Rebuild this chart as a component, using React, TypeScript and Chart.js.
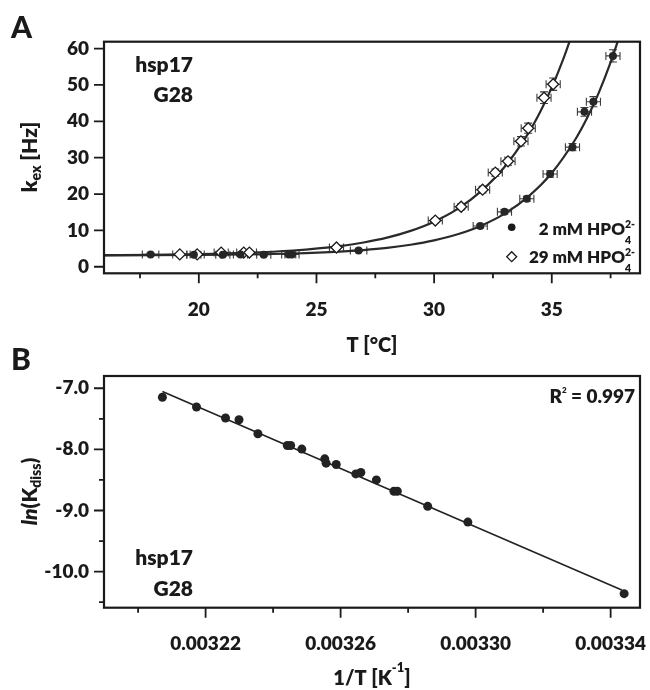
import React, { useEffect, useRef } from 'react';
import { Chart, registerables } from 'chart.js';

Chart.register(...registerables);

// ---------- Panel A data (kex vs T) ----------
const T_2MM = [17.95, 19.79, 21.02, 21.77, 22.76, 23.82, 23.96, 26.79, 31.96, 32.99, 33.94, 34.93, 35.88, 36.39, 36.77, 37.6];
const K_2MM = [3.4, 3.3, 3.3, 3.4, 3.3, 3.4, 3.4, 4.5, 11.2, 15.1, 18.7, 25.5, 32.9, 42.6, 45.4, 58.0];
const TERR_2MM = [0.35, 0.3, 0.3, 0.3, 0.3, 0.3, 0.3, 0.35, 0.3, 0.3, 0.3, 0.3, 0.3, 0.3, 0.3, 0.3];
const KERR_2MM = [0.3, 0.3, 0.3, 0.3, 0.3, 0.3, 0.3, 0.3, 0.5, 0.6, 0.7, 0.9, 1.0, 1.2, 1.4, 1.7];

const T_29MM = [19.19, 19.93, 20.95, 21.91, 22.15, 25.85, 30.05, 31.15, 32.06, 32.6, 33.14, 33.69, 34.0, 34.67, 35.06];
const K_29MM = [3.4, 3.4, 3.9, 3.9, 3.9, 5.3, 12.7, 16.5, 21.2, 25.9, 29.0, 34.5, 38.1, 46.5, 50.2];
const TERR_29MM = [0.3, 0.3, 0.3, 0.3, 0.3, 0.3, 0.3, 0.3, 0.3, 0.3, 0.3, 0.3, 0.3, 0.3, 0.3];
const KERR_29MM = [0.3, 0.3, 0.3, 0.3, 0.3, 0.4, 0.6, 0.8, 0.9, 1.0, 1.1, 1.3, 1.4, 1.6, 1.7];

// fitted curves
const FIT_T_2MM = [16, 18, 20, 22, 24, 26, 27, 28, 29, 30, 31, 32, 33, 34, 35, 36, 36.5, 37, 37.5, 37.8, 38.0];
const FIT_K_2MM = [3.14, 3.17, 3.24, 3.37, 3.64, 4.17, 4.6, 5.2, 6.06, 7.26, 8.94, 11.3, 14.6, 19.3, 25.8, 35.0, 40.9, 47.9, 56.2, 61.9, 66.0];
const FIT_T_29MM = [16, 18, 20, 22, 24, 26, 27, 28, 29, 30, 31, 32, 33, 34, 34.5, 35, 35.5, 35.8, 36.0];
const FIT_K_29MM = [3.2, 3.3, 3.48, 3.82, 4.47, 5.69, 6.67, 8.0, 9.87, 12.4, 15.9, 20.8, 27.5, 36.7, 42.5, 49.3, 57.3, 62.8, 66.7];

const A_X_MAJOR = [20, 25, 30, 35];
const A_X_LABELS = ['20', '25', '30', '35'];
const A_X_MINOR = [17.5, 22.5, 27.5, 32.5, 37.5];
const A_Y_MAJOR = [0, 10, 20, 30, 40, 50, 60];
const A_Y_LABELS = ['0', '10', '20', '30', '40', '50', '60'];

// ---------- Panel B data (ln Kdiss vs 1/T) ----------
const INV_T = [0.0032072, 0.0032173, 0.0032259, 0.0032299, 0.0032355, 0.0032442, 0.0032452, 0.0032485, 0.0032553, 0.0032557, 0.0032587, 0.0032645, 0.003266, 0.0032706, 0.0032758, 0.0032768, 0.0032858, 0.0032977, 0.003344];
const LN_K = [-7.148, -7.307, -7.487, -7.515, -7.744, -7.936, -7.936, -7.996, -8.155, -8.226, -8.248, -8.401, -8.379, -8.5, -8.686, -8.686, -8.932, -9.19, -10.36];
const FIT_INV_T = [0.0032072, 0.0033433];
const FIT_LN_K = [-7.055, -10.3];

const B_X_MAJOR = [0.00322, 0.00326, 0.0033, 0.00334];
const B_X_LABELS = ['0.00322', '0.00326', '0.00330', '0.00334'];
const B_X_MINOR = [0.0032, 0.00324, 0.00328, 0.00332];
const B_Y_MAJOR = [-7, -8, -9, -10];
const B_Y_LABELS = ['-7.0', '-8.0', '-9.0', '-10.0'];
const B_Y_MINOR = [-7.5, -8.5, -9.5, -10.5];

const INK = '#1a1a1a';
const FONT = 'Lato';
const WEIGHT = 800;
const TICK_FONT = { family: FONT, weight: WEIGHT as any, size: 19 };

type Seg = { t: string; s: number; dy?: number; it?: boolean; stack?: boolean; w?: number };
const segFont = (g: Seg) => `${g.it ? 'italic ' : ''}${g.w || WEIGHT} ${g.s}px ${FONT}`;

function drawRich(ctx: CanvasRenderingContext2D, segs: Seg[], x: number, y: number, align: 'left' | 'right' | 'center') {
  const pos: number[] = [];
  let cx = 0;
  let pending = 0;
  for (const g of segs) {
    ctx.font = segFont(g);
    const w = ctx.measureText(g.t).width;
    pos.push(cx);
    if (g.stack) pending = w;
    else {
      cx += Math.max(w, pending);
      pending = 0;
    }
  }
  const x0 = align === 'left' ? x : align === 'right' ? x - cx : x - cx / 2;
  ctx.textAlign = 'left';
  ctx.textBaseline = 'alphabetic';
  segs.forEach((g, i) => {
    ctx.font = segFont(g);
    ctx.fillText(g.t, x0 + pos[i], y + (g.dy || 0));
  });
}

function framePlugin(xMajor: number[], xMinor: number[], yMajor: number[], yMinor: number[]) {
  return {
    id: 'frame',
    afterDatasetsDraw(chart: any) {
      const { ctx, chartArea: a, scales } = chart;
      const xs = scales.x;
      const ys = scales.y;
      ctx.save();
      ctx.strokeStyle = INK;
      ctx.lineWidth = 1.8;
      ctx.beginPath();
      xMajor.forEach((v) => { const p = xs.getPixelForValue(v); ctx.moveTo(p, a.bottom); ctx.lineTo(p, a.bottom + 10); });
      xMinor.forEach((v) => { const p = xs.getPixelForValue(v); ctx.moveTo(p, a.bottom); ctx.lineTo(p, a.bottom + 5); });
      yMajor.forEach((v) => { const p = ys.getPixelForValue(v); ctx.moveTo(a.left, p); ctx.lineTo(a.left - 10, p); });
      yMinor.forEach((v) => { const p = ys.getPixelForValue(v); ctx.moveTo(a.left, p); ctx.lineTo(a.left - 5, p); });
      ctx.stroke();
      ctx.lineWidth = 2.2;
      ctx.strokeRect(a.left, a.top, a.right - a.left, a.bottom - a.top);
      ctx.restore();
    },
  };
}

const errorBarPlugin = {
  id: 'errbars',
  beforeDatasetsDraw(chart: any) {
    const { ctx, scales } = chart;
    const x = scales.x;
    const y = scales.y;
    ctx.save();
    ctx.strokeStyle = '#3c3c3c';
    ctx.lineWidth = 1.1;
    chart.data.datasets.forEach((ds: any) => {
      if (!ds.errX) return;
      ds.data.forEach((pt: any, i: number) => {
        const px = x.getPixelForValue(pt.x);
        const py = y.getPixelForValue(pt.y);
        const x0 = x.getPixelForValue(pt.x - ds.errX[i]);
        const x1 = x.getPixelForValue(pt.x + ds.errX[i]);
        const y0 = y.getPixelForValue(pt.y - ds.errY[i]);
        const y1 = y.getPixelForValue(pt.y + ds.errY[i]);
        ctx.beginPath();
        ctx.moveTo(x0, py); ctx.lineTo(x1, py);
        ctx.moveTo(x0, py - 4); ctx.lineTo(x0, py + 4);
        ctx.moveTo(x1, py - 4); ctx.lineTo(x1, py + 4);
        ctx.moveTo(px, y0); ctx.lineTo(px, y1);
        ctx.moveTo(px - 4, y0); ctx.lineTo(px + 4, y0);
        ctx.moveTo(px - 4, y1); ctx.lineTo(px + 4, y1);
        ctx.stroke();
      });
    });
    ctx.restore();
  },
};

const textsA = {
  id: 'textsA',
  afterDraw(chart: any) {
    const ctx: CanvasRenderingContext2D = chart.ctx;
    ctx.save();
    ctx.fillStyle = INK;
    drawRich(ctx, [{ t: 'A', s: 30, w: 900 }], 11, 38, 'left');
    drawRich(ctx, [{ t: 'hsp17', s: 21 }], 193, 71.7, 'right');
    drawRich(ctx, [{ t: 'G28', s: 21 }], 193, 101.7, 'right');
    // legend
    ctx.beginPath();
    ctx.arc(511.7, 227.3, 3.8, 0, Math.PI * 2);
    ctx.fill();
    drawRich(ctx, [{ t: '2 mM HPO', s: 17 }, { t: '4', s: 10.5, dy: 9, stack: true }, { t: '2-', s: 10.5, dy: -7 }], 635, 235, 'right');
    ctx.beginPath();
    ctx.moveTo(511.7, 256.7 - 5);
    ctx.lineTo(511.7 + 5, 256.7);
    ctx.lineTo(511.7, 256.7 + 5);
    ctx.lineTo(511.7 - 5, 256.7);
    ctx.closePath();
    ctx.fillStyle = '#fff';
    ctx.fill();
    ctx.strokeStyle = INK;
    ctx.lineWidth = 1.3;
    ctx.stroke();
    ctx.fillStyle = INK;
    drawRich(ctx, [{ t: '29 mM HPO', s: 17 }, { t: '4', s: 10.5, dy: 9, stack: true }, { t: '2-', s: 10.5, dy: -7 }], 635, 263.3, 'right');
    // axis titles
    ctx.save();
    ctx.translate(37, 157);
    ctx.rotate(-Math.PI / 2);
    drawRich(ctx, [{ t: 'k', s: 21 }, { t: 'ex', s: 14, dy: 4 }, { t: ' [Hz]', s: 21 }], 0, 0, 'center');
    ctx.restore();
    drawRich(ctx, [{ t: 'T [°C]', s: 20 }], 372, 352, 'center');
    ctx.restore();
  },
};

const textsB = {
  id: 'textsB',
  afterDraw(chart: any) {
    const ctx: CanvasRenderingContext2D = chart.ctx;
    ctx.save();
    ctx.fillStyle = INK;
    drawRich(ctx, [{ t: 'B', s: 30, w: 900 }], 11, 25, 'left');
    drawRich(ctx, [{ t: 'R', s: 19 }, { t: '2', s: 8, dy: -10 }, { t: ' = 0.997', s: 19 }], 635, 58.3, 'right');
    drawRich(ctx, [{ t: 'hsp17', s: 21 }], 193, 220, 'right');
    drawRich(ctx, [{ t: 'G28', s: 21 }], 193, 251, 'right');
    ctx.save();
    ctx.translate(37, 146.5);
    ctx.rotate(-Math.PI / 2);
    drawRich(ctx, [{ t: 'ln', s: 21, it: true }, { t: '(K', s: 21 }, { t: 'diss', s: 14, dy: 4 }, { t: ')', s: 21 }], 0, 0, 'center');
    ctx.restore();
    drawRich(ctx, [{ t: '1/T [K', s: 20 }, { t: '-1', s: 13, dy: -13 }, { t: ']', s: 20 }], 372, 340, 'center');
    ctx.restore();
  },
};

function axisX(min: number, max: number, major: number[], labels: string[], height: number) {
  return {
    type: 'linear',
    min,
    max,
    grid: { display: false, drawTicks: false },
    border: { display: false },
    afterBuildTicks: (s: any) => { s.ticks = major.map((v) => ({ value: v })); },
    afterFit: (s: any) => { s.height = height; s.paddingLeft = 0; s.paddingRight = 0; },
    ticks: {
      autoSkip: false,
      maxRotation: 0,
      minRotation: 0,
      padding: 25,
      font: TICK_FONT,
      color: INK,
      callback: (v: number) => labels[major.indexOf(v)],
    },
  };
}

function axisY(min: number, max: number, major: number[], labels: string[]) {
  return {
    type: 'linear',
    min,
    max,
    grid: { display: false, drawTicks: false },
    border: { display: false },
    afterBuildTicks: (s: any) => { s.ticks = major.map((v) => ({ value: v })); },
    afterFit: (s: any) => { s.width = 104; s.paddingTop = 0; s.paddingBottom = 0; },
    ticks: {
      autoSkip: false,
      padding: 15,
      font: TICK_FONT,
      color: INK,
      callback: (v: number) => labels[major.indexOf(v)],
    },
  };
}

export default function App() {
  const refA = useRef<HTMLCanvasElement>(null);
  const refB = useRef<HTMLCanvasElement>(null);

  useEffect(() => {
    const chartA = new Chart(refA.current as HTMLCanvasElement, {
      type: 'scatter',
      data: {
        datasets: [
          {
            label: '2 mM HPO4 2-',
            data: T_2MM.map((t, i) => ({ x: t, y: K_2MM[i] })),
            pointStyle: 'circle',
            pointRadius: 4,
            backgroundColor: '#262626',
            borderColor: '#262626',
            borderWidth: 0,
            showLine: false,
            errX: TERR_2MM,
            errY: KERR_2MM,
          } as any,
          {
            label: '29 mM HPO4 2-',
            data: T_29MM.map((t, i) => ({ x: t, y: K_29MM[i] })),
            pointStyle: 'rectRot',
            pointRadius: 5.5,
            backgroundColor: '#ffffff',
            borderColor: INK,
            borderWidth: 1.3,
            showLine: false,
            errX: TERR_29MM,
            errY: KERR_29MM,
          } as any,
          {
            label: 'fit 2 mM',
            data: FIT_T_2MM.map((t, i) => ({ x: t, y: FIT_K_2MM[i] })),
            showLine: true,
            pointRadius: 0,
            borderColor: '#2a2a2a',
            borderWidth: 2.2,
            cubicInterpolationMode: 'monotone',
          },
          {
            label: 'fit 29 mM',
            data: FIT_T_29MM.map((t, i) => ({ x: t, y: FIT_K_29MM[i] })),
            showLine: true,
            pointRadius: 0,
            borderColor: '#2a2a2a',
            borderWidth: 2.2,
            cubicInterpolationMode: 'monotone',
          },
        ],
      },
      options: {
        animation: false,
        responsive: false,
        devicePixelRatio: 1,
        layout: { padding: { left: 0, top: 41.7, right: 10, bottom: 0 } },
        plugins: { legend: { display: false }, tooltip: { enabled: false } },
        scales: {
          x: axisX(15.97, 38.75, A_X_MAJOR, A_X_LABELS, 88.7),
          y: axisY(-1.8, 61.9, A_Y_MAJOR, A_Y_LABELS),
        } as any,
      },
      plugins: [errorBarPlugin, framePlugin(A_X_MAJOR, A_X_MINOR, A_Y_MAJOR, []), textsA],
    });

    const chartB = new Chart(refB.current as HTMLCanvasElement, {
      type: 'scatter',
      data: {
        datasets: [
          {
            label: 'ln Kdiss',
            data: INV_T.map((v, i) => ({ x: v, y: LN_K[i] })),
            pointStyle: 'circle',
            pointRadius: 4.5,
            backgroundColor: '#222',
            borderColor: '#222',
            borderWidth: 0,
            showLine: false,
          },
          {
            label: 'fit',
            data: FIT_INV_T.map((v, i) => ({ x: v, y: FIT_LN_K[i] })),
            showLine: true,
            pointRadius: 0,
            borderColor: '#222',
            borderWidth: 1.6,
          },
        ],
      },
      options: {
        animation: false,
        responsive: false,
        devicePixelRatio: 1,
        layout: { padding: { left: 0, top: 31, right: 10, bottom: 0 } },
        plugins: { legend: { display: false }, tooltip: { enabled: false } },
        scales: {
          x: axisX(0.0031899, 0.0033487, B_X_MAJOR, B_X_LABELS, 82.3),
          y: axisY(-10.59, -6.8, B_Y_MAJOR, B_Y_LABELS),
        } as any,
      },
      plugins: [framePlugin(B_X_MAJOR, B_X_MINOR, B_Y_MAJOR, B_Y_MINOR), textsB],
    });

    return () => {
      chartA.destroy();
      chartB.destroy();
    };
  }, []);

  return (
    <div style={{ position: 'fixed', left: 0, top: 0, width: 650, height: 690, background: '#fff' }}>
      <div style={{ position: 'absolute', left: 0, top: 0, width: 650, height: 362 }}>
        <canvas ref={refA} width={650} height={362} />
      </div>
      <div style={{ position: 'absolute', left: 0, top: 345, width: 650, height: 345 }}>
        <canvas ref={refB} width={650} height={345} />
      </div>
    </div>
  );
}
